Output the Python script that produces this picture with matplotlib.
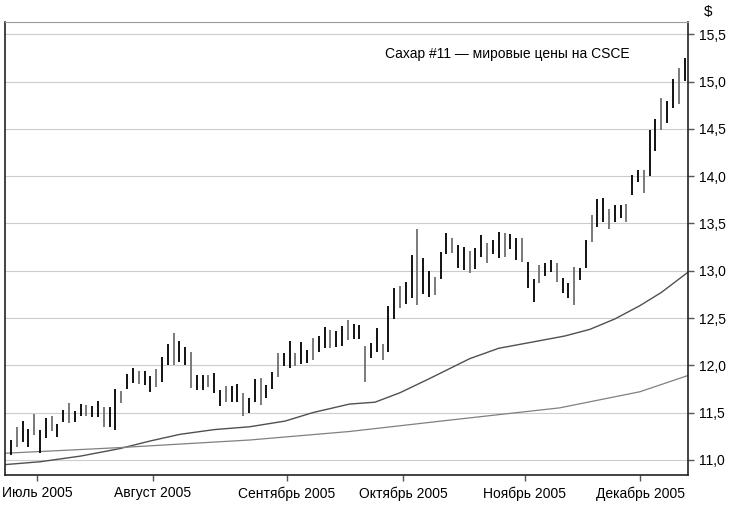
import matplotlib
matplotlib.use("Agg")
import matplotlib.pyplot as plt
from matplotlib.ticker import FixedLocator

FONT = ['Liberation Sans Narrow', 'Liberation Sans', 'DejaVu Sans']
plt.rcParams['font.family'] = FONT

highs = [11.21,11.35,11.41,11.33,11.49,11.32,11.44,11.46,11.38,11.53,11.60,11.52,11.59,11.58,11.57,11.62,11.56,11.56,11.75,11.73,
         11.91,11.97,11.94,11.94,11.89,11.96,12.09,12.23,12.34,12.26,12.19,12.14,11.90,11.90,11.90,11.92,11.74,11.78,11.78,11.80,
         11.71,11.65,11.85,11.87,11.79,11.93,12.13,12.13,12.26,12.13,12.25,12.16,12.29,12.31,12.40,12.37,12.36,12.42,12.48,12.44,
         12.43,12.20,12.24,12.39,12.23,12.63,12.82,12.84,12.88,13.17,13.44,13.13,13.00,12.93,13.20,13.40,13.35,13.27,13.25,13.21,
         13.24,13.38,13.29,13.33,13.41,13.40,13.39,13.35,13.35,13.09,12.91,13.06,13.08,13.11,13.08,12.92,12.87,13.04,13.03,13.32,
         13.59,13.76,13.77,13.65,13.69,13.70,13.71,14.01,14.06,14.07,14.49,14.60,14.83,14.79,15.03,15.14,15.25]
lows = [11.05,11.14,11.19,11.14,11.26,11.07,11.23,11.30,11.24,11.40,11.39,11.40,11.46,11.46,11.45,11.45,11.35,11.35,11.32,11.60,
        11.75,11.81,11.80,11.79,11.72,11.77,11.82,12.00,12.00,12.04,12.00,11.76,11.74,11.74,11.77,11.71,11.57,11.61,11.61,11.61,
        11.46,11.50,11.61,11.58,11.65,11.75,11.88,11.99,11.97,11.99,12.01,12.02,12.06,12.14,12.18,12.18,12.19,12.20,12.27,12.28,
        12.28,11.82,12.08,12.14,12.06,12.14,12.49,12.61,12.65,12.71,12.64,12.75,12.72,12.74,12.91,13.18,13.19,13.03,13.01,12.98,
        13.02,13.14,13.08,13.18,13.13,13.15,13.23,13.11,13.09,12.82,12.67,12.87,12.94,12.99,12.88,12.76,12.71,12.64,12.90,13.03,
        13.30,13.46,13.51,13.44,13.51,13.56,13.52,13.80,13.94,13.82,14.00,14.27,14.49,14.56,14.72,14.76,15.01]

ma_fast_x = [-1.0,5.0,12.0,18.8,24.0,29.1,35.0,41.1,47.2,52.0,58.3,62.7,67.0,72.1,79.0,84.0,89.3,95.4,99.7,104.0,108.3,112.0,116.5]
ma_fast_y = [10.95,10.98,11.04,11.12,11.20,11.27,11.32,11.35,11.41,11.50,11.59,11.61,11.71,11.86,12.07,12.18,12.24,12.31,12.38,12.49,12.63,12.77,12.98]
ma_slow_x = [-1.0,18.8,41.1,58.3,75.5,94.5,108.3,116.5]
ma_slow_y = [11.07,11.13,11.21,11.30,11.42,11.55,11.72,11.89]

month_pos = [4.5,24.4,47.5,67.5,88.5,108.4]
month_labels = ['Июль 2005','Август 2005','Сентябрь 2005','Октябрь 2005','Ноябрь 2005','Декабрь 2005']
yticks = [11.0,11.5,12.0,12.5,13.0,13.5,14.0,14.5,15.0,15.5]
title = 'Сахар #11 — мировые цены на CSCE'

fig = plt.figure(figsize=(7.33,5.08), dpi=100)
ax = fig.add_axes([5/733, 1-475/508, 683/733, 453/508])
ax.set_xlim(-1.03, 116.6)
ax.set_ylim(10.84, 15.63)

for v in yticks:
    ax.axhline(v, color='#cccccc', lw=0.8, zorder=0)

xs = list(range(len(highs)))
cols = ['black' if i % 3 != 1 else '#707070' for i in xs]
ax.vlines(xs, lows, highs, colors=cols, lw=1.3, zorder=3)
ax.plot(ma_fast_x, ma_fast_y, color='#505050', lw=1.0, zorder=2)
ax.plot(ma_slow_x, ma_slow_y, color='#808080', lw=0.9, zorder=2)

ax.yaxis.tick_right()
ax.yaxis.set_major_locator(FixedLocator(yticks))
ax.set_yticklabels([f'{v:.1f}'.replace('.', ',') for v in yticks], fontsize=10)
ax.xaxis.set_major_locator(FixedLocator(month_pos))
ax.set_xticklabels(month_labels, fontsize=10)
ax.tick_params(axis='both', direction='out', length=4, width=1, color='#555555', pad=4)
for s in ['left','bottom','right']:
    ax.spines[s].set_color('#222222'); ax.spines[s].set_linewidth(1.2)
ax.spines['top'].set_color('#999999')

ax.text(0.915, 0.93, title, transform=ax.transAxes, ha='right', va='center', fontsize=10)
fig.text(708/733, 1-12/508, '$', ha='center', va='center', fontsize=11)

fig.savefig('out.png', dpi=100)
